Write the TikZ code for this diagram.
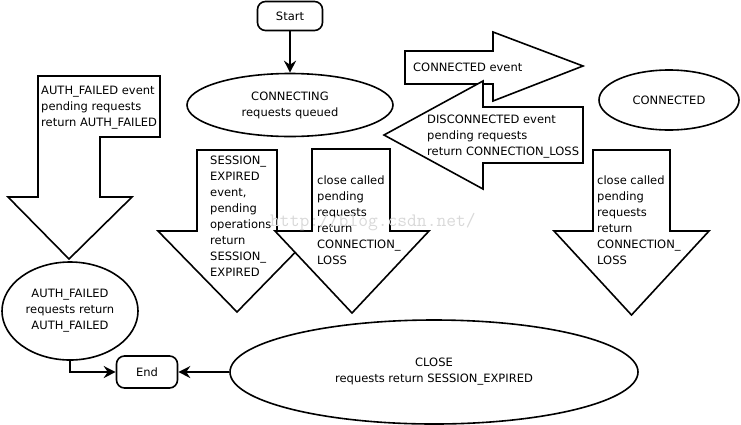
\documentclass[tikz,border=0pt]{standalone}
\usepackage{fontspec}
\newfontfamily\dejavu{DejaVu Sans}
\usetikzlibrary{shapes.geometric,arrows.meta}

\begin{document}
\begin{tikzpicture}[x=1pt,y=-1pt,
  every node/.style={font=\dejavu\fontsize{11.5}{16}\selectfont},
  state/.style={draw, ellipse, line width=1.6pt, inner sep=0pt, align=center},
  terminal/.style={draw, rounded corners=8pt, line width=1.6pt, inner sep=0pt},
  block/.style={draw, fill=white, line width=1.6pt},
  blocktext/.style={anchor=north west, inner sep=0pt, align=left},
  flow/.style={-{Stealth[length=12pt,width=12pt,inset=4pt]}, line width=1.6pt}]

\useasboundingbox (0,0) rectangle (741,424);

% states
\node (start) [terminal, minimum width=65pt, minimum height=29pt] at (290,16) {Start};
\node (connecting) [state, minimum width=206pt, minimum height=63pt] at (290,105)
  {CONNECTING\\requests queued};
\node (connected) [state, minimum width=140pt, minimum height=60pt] at (669,100) {CONNECTED};
\node (authfailed) [state, minimum width=136pt, minimum height=98pt] at (70,311)
  {AUTH\_FAILED\\requests return\\AUTH\_FAILED};
\node (closestate) [state, minimum width=408pt, minimum height=104pt] at (434,372)
  {CLOSE\\requests return SESSION\_EXPIRED};
\node (end) [terminal, minimum width=61pt, minimum height=32pt] at (147,372) {End};

% block arrows
\draw [block] (38,76) -- (160,76) -- (160,137) -- (100,137) -- (100,197)
  -- (132,197) -- (69,259) -- (8,197) -- (38,197) -- cycle;
\draw [block] (197,150) -- (277,150) -- (277,231) -- (316,231)
  -- (237,312) -- (158,231) -- (197,231) -- cycle;
\draw [block] (312,149) -- (390,149) -- (390,231) -- (429,231)
  -- (352,313) -- (275,231) -- (312,231) -- cycle;
\draw [block] (593,150) -- (670,150) -- (670,231) -- (709,231)
  -- (631.5,315) -- (554,231) -- (593,231) -- cycle;
\draw [block] (405,51) -- (493,51) -- (493,32) -- (583,66)
  -- (493,101) -- (493,84) -- (405,84) -- cycle;
\draw [block] (583,107) -- (583,163) -- (483,163) -- (483,189)
  -- (384,135) -- (483,81) -- (483,107) -- cycle;

% texts on the block arrows
\node (authtext) [blocktext] at (41,85.5)
  {AUTH\_FAILED event\\pending requests\\return AUTH\_FAILED};
\node (expiredtext) [blocktext] at (210,155.5)
  {SESSION\_\\EXPIRED\\event,\\pending\\operations\\return\\SESSION\_\\EXPIRED};
\node (closetext) [blocktext] at (317,175.5)
  {close called\\pending\\requests\\return\\CONNECTION\_\\LOSS};
\node (closetext2) [blocktext] at (597,175.5)
  {close called\\pending\\requests\\return\\CONNECTION\_\\LOSS};
\node (connectedtext) [blocktext] at (413,62.5) {CONNECTED event};
\node (disconnectedtext) [blocktext] at (427,114.5)
  {DISCONNECTED event\\pending requests\\return CONNECTION\_LOSS};

% connectors
\draw [flow] (start) -- (connecting);
\draw [flow] (authfailed.south) |- (end.west);
\draw [flow] (closestate) -- (end);

\node (watermark) [anchor=west, inner sep=0pt, text=gray!30,
  font=\ttfamily\fontsize{19}{19}\selectfont] at (270,222) {http://blog.csdn.net/};

\end{tikzpicture}
\end{document}
